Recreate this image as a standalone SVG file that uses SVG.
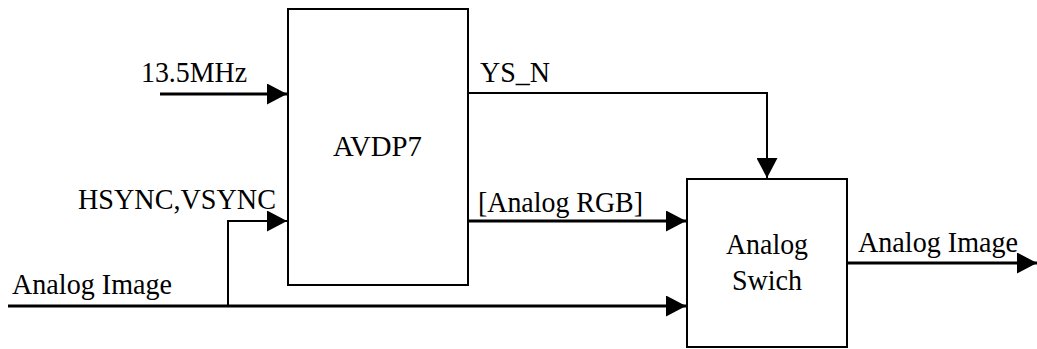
<svg xmlns="http://www.w3.org/2000/svg" width="1037" height="349" viewBox="0 0 1037 349" font-family="'Liberation Serif', 'DejaVu Serif', serif" font-size="30">
<style>
text{font-family:'Liberation Serif','DejaVu Serif',serif;font-size:30px;fill:#000}
.box{fill:#fff;stroke:#000;stroke-width:2}
.thick{fill:none;stroke:#000;stroke-width:3}
.thin{fill:none;stroke:#000;stroke-width:2}
</style>
<defs>
<marker id="ah" markerUnits="userSpaceOnUse" markerWidth="20" markerHeight="21" refX="20" refY="10.5" orient="auto">
<path d="M0,0 L20,10.5 L0,21 Z" fill="#000"/>
</marker>
</defs>
<rect width="1037" height="349" fill="#fff"/>
<g id="connectors">
<line class="thick" x1="160" y1="94" x2="287" y2="94" marker-end="url(#ah)"/>
<line class="thick" x1="8" y1="306" x2="686" y2="306" marker-end="url(#ah)"/>
<polyline class="thin" points="228,306 228,221 287,221" marker-end="url(#ah)"/>
<polyline class="thin" points="467,93 767,93 767,178" marker-end="url(#ah)"/>
<line class="thick" x1="467" y1="221" x2="686" y2="221" marker-end="url(#ah)"/>
<line class="thick" x1="847" y1="263" x2="1037" y2="263" marker-end="url(#ah)"/>
<text x="141" y="82" textLength="106" lengthAdjust="spacingAndGlyphs">13.5MHz</text>
<text x="78" y="209" textLength="198" lengthAdjust="spacingAndGlyphs">HSYNC,VSYNC</text>
<text x="12" y="294" textLength="160" lengthAdjust="spacingAndGlyphs">Analog Image</text>
<text x="480" y="82" textLength="70" lengthAdjust="spacingAndGlyphs">YS_N</text>
<text x="478" y="212" textLength="165" lengthAdjust="spacingAndGlyphs">[Analog RGB]</text>
<text x="858" y="252" textLength="160" lengthAdjust="spacingAndGlyphs">Analog Image</text>
</g>
<g id="avdp7">
<rect class="box" x="288" y="9" width="180" height="276"/>
<text x="333" y="156" textLength="89" lengthAdjust="spacingAndGlyphs">AVDP7</text>
</g>
<g id="analog-swich">
<rect class="box" x="687" y="179" width="160" height="168"/>
<text x="726" y="254" textLength="82" lengthAdjust="spacingAndGlyphs">Analog</text>
<text x="732" y="290" textLength="70" lengthAdjust="spacingAndGlyphs">Swich</text>
</g>
</svg>
